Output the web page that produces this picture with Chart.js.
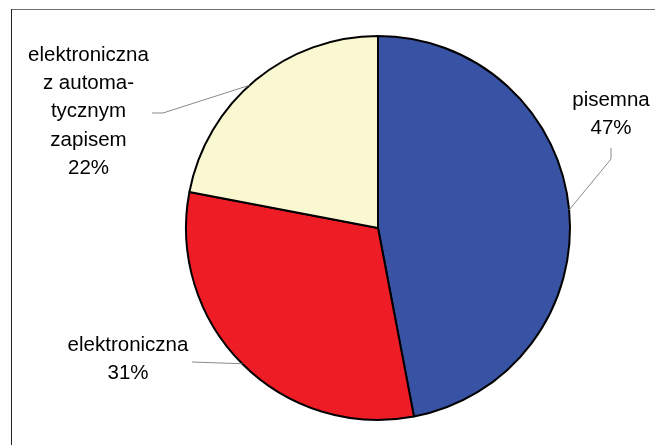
<!DOCTYPE html>
<html>
<head>
<meta charset="utf-8">
<script src="https://cdn.jsdelivr.net/npm/chart.js@4/dist/chart.umd.min.js"></script>
<style>
  html, body { margin: 0; padding: 0; background: #fff; }
  #wrap { position: relative; width: 655px; height: 445px; }
  canvas { display: block; }
</style>
</head>
<body>
<div id="wrap"><canvas id="c" width="655" height="445"></canvas></div>
<script>
// ---- data ----
const categories = ["pisemna", "elektroniczna", "elektroniczna z automatycznym zapisem"];
const labelLines = [["pisemna"], ["elektroniczna"], ["elektroniczna", "z automa-", "tycznym", "zapisem"]];
const values = [47, 31, 22];
const colors = ["#3953A4", "#EE1D25", "#FAF8D0"];

// label layout relative to pie centre (px)
const labelLayout = [
  { anchorFrac: 0.5,  textX: 233,    textY: -128, leader: [[233, -69], [233, -80]] },
  { anchorFrac: 0.5,  textX: -250,   textY: 117,  leader: [[-186, 134]] },
  { anchorFrac: 0.47, textX: -289.5, textY: -173, leader: [[-215, -115], [-226, -115]] }
];
const lineGap = 28.3;

const frame = {
  id: 'frame',
  beforeDraw(chart) {
    const ctx = chart.ctx;
    ctx.save();
    ctx.fillStyle = '#fff';
    ctx.fillRect(0, 0, chart.width, chart.height);
    ctx.lineWidth = 1;
    ctx.strokeStyle = '#707070';
    ctx.beginPath(); ctx.moveTo(11, 9.5); ctx.lineTo(chart.width, 9.5); ctx.stroke();
    ctx.strokeStyle = '#222';
    ctx.beginPath(); ctx.moveTo(11.5, 9); ctx.lineTo(11.5, chart.height); ctx.stroke();
    ctx.restore();
  }
};

const pieLabels = {
  id: 'pieLabels',
  afterDraw(chart) {
    const ctx = chart.ctx;
    const meta = chart.getDatasetMeta(0);
    const data = chart.data.datasets[0].data;
    const total = data.reduce((a, b) => a + b, 0);
    ctx.save();
    meta.data.forEach((arc, i) => {
      const p = arc.getProps(['x', 'y', 'startAngle', 'endAngle', 'outerRadius'], true);
      const L = labelLayout[i];
      const a = p.startAngle + L.anchorFrac * (p.endAngle - p.startAngle);
      const ax = p.x + Math.cos(a) * p.outerRadius;
      const ay = p.y + Math.sin(a) * p.outerRadius;
      // leader
      ctx.strokeStyle = '#8a8a8a';
      ctx.lineWidth = 1;
      ctx.beginPath();
      ctx.moveTo(ax, ay);
      L.leader.forEach(pt => ctx.lineTo(p.x + pt[0], p.y + pt[1]));
      ctx.stroke();
      // text
      const lines = labelLines[i].concat([Math.round(data[i] / total * 100) + '%']);
      ctx.fillStyle = '#000';
      ctx.font = '20.5px "Liberation Sans", Arial, sans-serif';
      ctx.textAlign = 'center';
      ctx.textBaseline = 'middle';
      lines.forEach((t, k) => {
        ctx.fillText(t, p.x + L.textX, p.y + L.textY + k * lineGap);
      });
    });
    ctx.restore();
  }
};

new Chart(document.getElementById('c'), {
  type: 'pie',
  data: {
    labels: categories,
    datasets: [{
      data: values,
      backgroundColor: colors,
      borderColor: '#000',
      borderWidth: 2,
      radius: 192
    }]
  },
  options: {
    responsive: false,
    devicePixelRatio: 1,
    animation: false,
    rotation: 0,
    layout: { padding: { left: 186, right: 85, top: 36, bottom: 25 } },
    plugins: { legend: { display: false }, tooltip: { enabled: false } }
  },
  plugins: [frame, pieLabels]
});
</script>
</body>
</html>
